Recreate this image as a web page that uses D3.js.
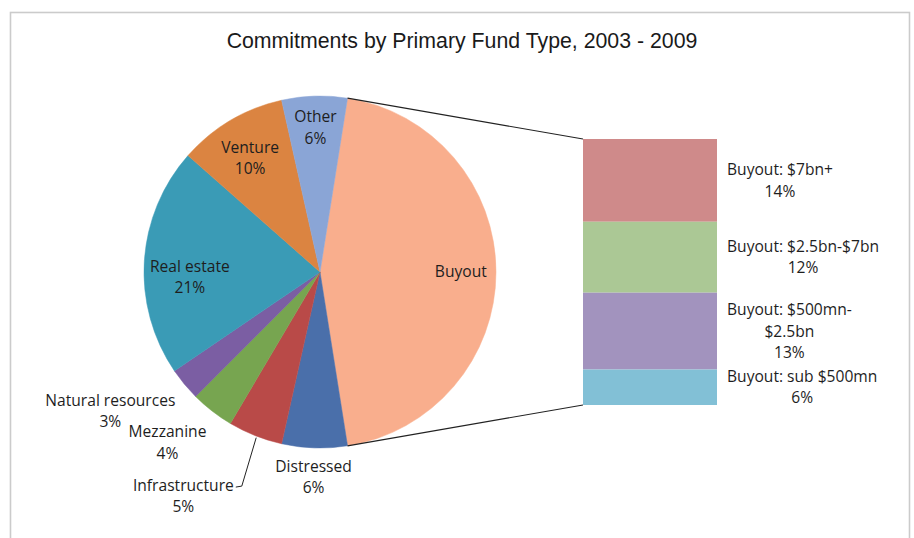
<!DOCTYPE html>
<html>
<head>
<meta charset="utf-8">
<script src="https://cdn.jsdelivr.net/npm/d3@7"></script>
<style>
  body { margin: 0; background: #fff; }
  svg { display: block; }
  .lbl { font-family: "Open Sans", Lato, sans-serif; font-size: 15.6px; fill: #1e1e1e; }
  .title { font-family: "Liberation Sans", Arial, sans-serif; font-size: 21.3px; fill: #1a1a1a; }
</style>
</head>
<body>
<svg id="chart" width="914" height="538"></svg>
<script>
// primary fund types, clockwise starting with the exploded slice
const categories = ["Buyout", "Distressed", "Infrastructure", "Mezzanine", "Natural resources", "Real estate", "Venture", "Other"];
const shares = [45, 6, 5, 4, 3, 21, 10, 6];
const colors = ["#F9AE8D", "#4A6FAA", "#B94A48", "#77A550", "#7B5EA3", "#3A9BB6", "#DB8441", "#8AA5D6"];

// buyout breakdown (bar of pie)
const buyoutParts = ["Buyout: $7bn+", "Buyout: $2.5bn-$7bn", "Buyout: $500mn-$2.5bn", "Buyout: sub $500mn"];
const buyoutLines = [["Buyout: $7bn+"], ["Buyout: $2.5bn-$7bn"], ["Buyout: $500mn-", "$2.5bn"], ["Buyout: sub $500mn"]];
const buyoutShares = [14, 12, 13, 6];
const buyoutColors = ["#CF8A8A", "#ABC895", "#A293BE", "#82C0D6"];

const title = "Commitments by Primary Fund Type, 2003 - 2009";

// label placement: radius factor k, angle nudge da (degrees)
const labelLayout = {
  "Buyout": {k: 0.8},
  "Distressed": {k: 1.165},
  "Infrastructure": {k: 1.49, da: 9.8, leader: true},
  "Mezzanine": {k: 1.3, da: 4},
  "Natural resources": {k: 1.43, da: 6},
  "Real estate": {k: 0.74, da: -5.8},
  "Venture": {k: 0.76, da: -0.9},
  "Other": {k: 0.82}
};

const svg = d3.select("#chart");
const cx = 320, cy = 272, R = 176;
const lineH = 21.5;

// chart frame
svg.append("rect")
  .attr("x", 10.5).attr("y", 12.5)
  .attr("width", 899).attr("height", 560)
  .attr("fill", "#fff").attr("stroke", "#cbcbcb").attr("stroke-width", 1.6);

svg.append("text").attr("class", "title")
  .attr("x", 462).attr("y", 48)
  .attr("text-anchor", "middle")
  .text(title);

const data = categories.map((c, i) => ({name: c, value: shares[i], color: colors[i]}));
const buyoutFrac = shares[0] / d3.sum(shares);
const start = Math.PI / 2 - buyoutFrac * Math.PI;

const pie = d3.pie().value(d => d.value).sort(null)
  .startAngle(start).endAngle(start + 2 * Math.PI);
const arcs = pie(data);
const arc = d3.arc().innerRadius(0).outerRadius(R);

const pg = svg.append("g").attr("transform", `translate(${cx},${cy})`);
pg.selectAll("path").data(arcs).enter().append("path")
  .attr("d", arc)
  .attr("fill", d => d.data.color)
  .attr("stroke", d => d.data.color)
  .attr("stroke-width", 0.5);

// bar of buyout parts
const barX0 = 583, barX1 = 717, barTop = 139, barBottom = 405;
const y = d3.scaleLinear().domain([0, d3.sum(buyoutShares)]).range([barTop, barBottom]);
let acc = 0;
const stack = buyoutShares.map((v, i) => {
  const s = {name: buyoutParts[i], lines: buyoutLines[i], value: v, color: buyoutColors[i], y0: acc, y1: acc + v};
  acc += v;
  return s;
});

svg.append("g").selectAll("rect").data(stack).enter().append("rect")
  .attr("x", barX0).attr("width", barX1 - barX0)
  .attr("y", d => y(d.y0)).attr("height", d => y(d.y1) - y(d.y0))
  .attr("fill", d => d.color);

// connector lines from buyout slice edges to bar
const b = arcs[0];
const pt = a => [cx + R * Math.sin(a), cy - R * Math.cos(a)];
const pTop = pt(b.startAngle), pBot = pt(b.endAngle);
svg.append("line")
  .attr("x1", pTop[0]).attr("y1", pTop[1]).attr("x2", barX0).attr("y2", y(0))
  .attr("stroke", "#222").attr("stroke-width", 1.1);
svg.append("line")
  .attr("x1", pBot[0]).attr("y1", pBot[1]).attr("x2", barX0).attr("y2", y(d3.sum(buyoutShares)))
  .attr("stroke", "#222").attr("stroke-width", 1.1);

// multi-line centered text block
function block(g, x, yc, lines) {
  const t = g.append("text").attr("class", "lbl").attr("text-anchor", "middle");
  const top = yc - (lines.length - 1) * lineH / 2;
  lines.forEach((l, i) => {
    t.append("tspan").attr("x", x).attr("y", top + i * lineH).attr("dy", "0.35em").text(l);
  });
  return t;
}

// pie labels
const lg = svg.append("g");
arcs.forEach(a => {
  const lay = labelLayout[a.data.name];
  const ang = (a.startAngle + a.endAngle) / 2 + (lay.da || 0) * Math.PI / 180;
  const r = R * lay.k;
  const x = cx + r * Math.sin(ang), yc = cy - r * Math.cos(ang);
  const lines = a.data.name === "Buyout" ? ["Buyout"] : [a.data.name, a.data.value + "%"];
  const t = block(lg, x, yc, lines);
  if (lay.leader) {
    const w = t.node().getBBox();
    const e = pt((a.startAngle + a.endAngle) / 2);
    const lx = w.x + w.width + 2, ly = yc - lineH / 2 + 2;
    lg.append("path")
      .attr("d", `M${lx},${ly}L${lx + 6},${ly - 1}L${e[0] + 1},${e[1] + 2}`)
      .attr("fill", "none").attr("stroke", "#222").attr("stroke-width", 1);
  }
});

// bar labels: left edge after bar, lines centred within block
stack.forEach(d => {
  const yc = y((d.y0 + d.y1) / 2);
  const lines = d.lines.concat([d.value + "%"]);
  const tmp = block(lg, 0, yc, lines);
  let maxW = 0;
  tmp.selectAll("tspan").each(function() { maxW = Math.max(maxW, this.getComputedTextLength()); });
  tmp.remove();
  block(lg, barX1 + 10 + maxW / 2, yc, lines);
});
</script>
</body>
</html>
